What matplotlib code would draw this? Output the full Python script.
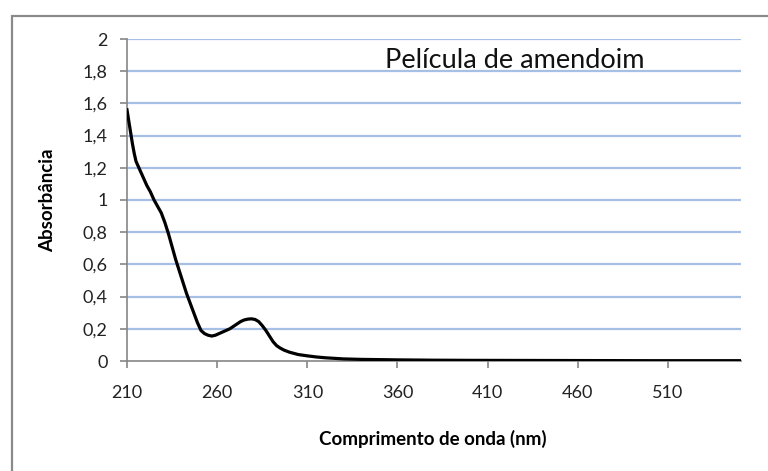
import matplotlib.pyplot as plt
from matplotlib.patches import Rectangle
from matplotlib.ticker import FuncFormatter

# Espectro UV-Vis da película de amendoim
comprimento = [210, 211, 212, 213, 214, 215, 217, 219, 221, 223, 225, 227, 229,
               231, 233, 235, 237, 239, 241, 243, 245, 247, 249, 251, 253, 255,
               257, 259, 261, 263, 265, 267, 269, 271, 273, 275, 277, 279, 281,
               283, 285, 287, 289, 291, 293, 295, 297, 300, 305, 310, 315, 320,
               330, 340, 360, 380, 400, 450, 500, 550]
absorbancia = [1.56, 1.49, 1.42, 1.35, 1.29, 1.24, 1.19, 1.14, 1.09, 1.05, 1.00,
               0.96, 0.92, 0.86, 0.79, 0.71, 0.63, 0.56, 0.49, 0.42, 0.36, 0.30,
               0.24, 0.19, 0.17, 0.16, 0.155, 0.16, 0.17, 0.18, 0.19, 0.20, 0.215,
               0.23, 0.245, 0.255, 0.26, 0.262, 0.258, 0.245, 0.22, 0.19, 0.155,
               0.12, 0.095, 0.08, 0.068, 0.055, 0.04, 0.032, 0.025, 0.02, 0.013,
               0.01, 0.007, 0.005, 0.004, 0.003, 0.002, 0.002]

xticks = [210, 260, 310, 360, 410, 460, 510]
yticks = [0, 0.2, 0.4, 0.6, 0.8, 1, 1.2, 1.4, 1.6, 1.8, 2]

fonte = "Lato"
cinza = "#868686"

fig = plt.figure(figsize=(7.68, 4.71), dpi=100)
ax = fig.add_axes([127 / 768, 1 - 361 / 471, (741 - 127) / 768, (361 - 39) / 471])

# moldura externa
fig.patches.append(Rectangle((12 / 768, -0.1), 1.0, 1 - 16 / 471 + 0.1,
                             transform=fig.transFigure, fill=False,
                             edgecolor="#8a8a8a", linewidth=1.6))

for y in yticks[1:]:
    ax.axhline(y, color="#a6bfe4", linewidth=1.6, zorder=1)

ax.plot(comprimento, absorbancia, color="black", linewidth=2.3, zorder=3)

ax.set_xlim(210, 550.5)
ax.set_ylim(0, 2)
ax.set_xticks(xticks)
ax.set_yticks(yticks)
ax.yaxis.set_major_formatter(FuncFormatter(lambda v, p: f"{v:g}".replace(".", ",")))

for s in ["top", "right"]:
    ax.spines[s].set_visible(False)
ax.spines["left"].set_color(cinza)
ax.spines["bottom"].set_color(cinza)
ax.spines["left"].set_linewidth(1.2)
ax.spines["bottom"].set_linewidth(1.2)
ax.tick_params(axis="both", colors=cinza, length=5, width=1.2, labelcolor="#222222",
               labelsize=13)
ax.tick_params(axis="y", pad=9)
ax.tick_params(axis="x", pad=12)
for lab in ax.get_xticklabels() + ax.get_yticklabels():
    lab.set_fontfamily(fonte)

ax.set_xlabel("Comprimento de onda (nm)", fontfamily=fonte, fontweight="bold",
              fontsize=13.5)
ax.set_ylabel("Absorbância", fontfamily=fonte, fontweight="bold", fontsize=13.5)
ax.xaxis.set_label_coords(0.498, -0.215)
ax.yaxis.set_label_coords(-0.115, 0.5)

fig.text(385 / 768, 1 - 60 / 471, "Película de amendoim", fontfamily=fonte,
         fontsize=19.5, va="center", ha="left", color="#111111")

fig.savefig("out.png", dpi=100)
